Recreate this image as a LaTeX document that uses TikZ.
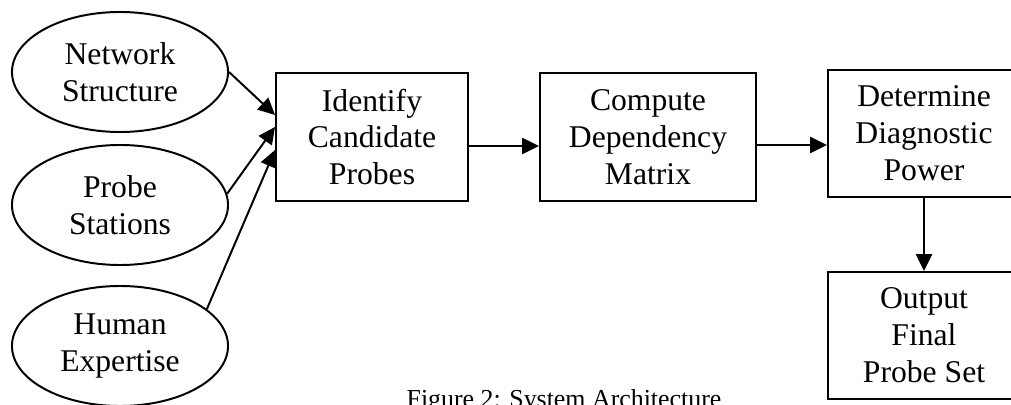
\documentclass[tikz,border=0pt]{standalone}
\usepackage{fontspec}
\setmainfont{Liberation Serif}
\usetikzlibrary{shapes.geometric,arrows.meta}
\begin{document}
\begin{tikzpicture}[x=0.025cm,y=-0.025cm,line width=1.4pt,
	every node/.style={align=center,inner sep=0pt,font=\fontsize{22.5}{26.2}\selectfont},
	src/.style={draw,ellipse,minimum width=5.4cm,minimum height=3cm},
	stepbox/.style={draw,rectangle,minimum height=3.2cm},
	>={Triangle[length=0.42cm,width=0.4cm]}]
      \useasboundingbox (0,0) rectangle (1011,405);
      \node [src] (n1) at (120,72)  {Network\\Structure};
      \node [src] (n2) at (120,205) {Probe\\Stations};
      \node [src] (n3) at (120,346) {Human\\Expertise};
      \node [stepbox,minimum width=4.8cm] (n4) at (372,137) {Identify\\Candidate\\Probes};
      \node [stepbox,minimum width=5.4cm] (n5) at (648,137) {Compute\\Dependency\\Matrix};
      \node [stepbox,minimum width=4.8cm,minimum height=3.175cm] (n6) at (924,133.5) {Determine\\Diagnostic\\Power};
      \node [stepbox,minimum width=4.8cm,minimum height=3.175cm] (n7) at (924,335.5) {Output\\Final\\Probe Set};
      \node [anchor=base,font=\fontsize{18.4}{22}\selectfont] (cap) at (564,407) {Figure 2: System Architecture};

      \draw [->] (n1.east) -- ([yshift=0.55cm]n4.west);
      \draw [->] (n2.6) -- ([yshift=0.25cm]n4.west);
      \draw [->] (n3.23) -- ([yshift=-0.325cm]n4.west);
      \draw [->] ([yshift=-0.225cm]n4.east) -- ([yshift=-0.225cm]n5.west);
      \draw [->] ([yshift=-0.2cm]n5.east) -- ([yshift=-0.2cm]n5.east -| n6.west);
      \draw [->] (n6) -- (n7);
    \end{tikzpicture}
\end{document}
